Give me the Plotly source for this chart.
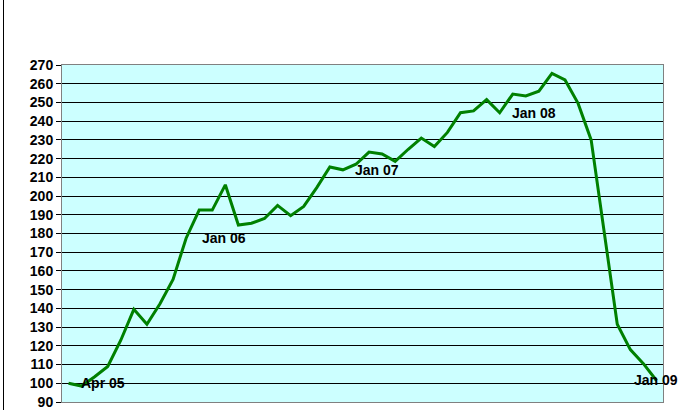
import plotly.graph_objects as go

months = ["Apr 05", "May 05", "Jun 05", "Jul 05", "Aug 05", "Sep 05", "Oct 05", "Nov 05", "Dec 05",
          "Jan 06", "Feb 06", "Mar 06", "Apr 06", "May 06", "Jun 06", "Jul 06", "Aug 06", "Sep 06",
          "Oct 06", "Nov 06", "Dec 06", "Jan 07", "Feb 07", "Mar 07", "Apr 07", "May 07", "Jun 07",
          "Jul 07", "Aug 07", "Sep 07", "Oct 07", "Nov 07", "Dec 07", "Jan 08", "Feb 08", "Mar 08",
          "Apr 08", "May 08", "Jun 08", "Jul 08", "Aug 08", "Sep 08", "Oct 08", "Nov 08", "Dec 08",
          "Jan 09"]
values = [100, 98.5, 103.5, 109, 123, 139.5, 131.5, 142.5, 155.5,
          177.5, 192.5, 192.5, 206, 184.5, 185.5, 188, 195, 189.5,
          194.5, 204.5, 215.5, 214, 217, 223.5, 222.5, 218.5, 225,
          231, 226.5, 234, 244.5, 245.5, 251.5, 244.5, 254.5, 253.5,
          256, 265.5, 262, 249.5, 230, 182, 131.5, 118, 110.5,
          101.5]
labelled = ["Apr 05", "Jan 06", "Jan 07", "Jan 08", "Jan 09"]
y_ticks = list(range(90, 271, 10))

FONT = "Arial, Liberation Sans, sans-serif"

fig = go.Figure()
fig.add_trace(go.Scatter(x=months, y=values, mode="lines",
                         line=dict(color="#008000", width=3), hoverinfo="skip"))

for lab in labelled:
    i = months.index(lab)
    last = i == len(months) - 1
    fig.add_annotation(x=lab, y=values[i], text=lab, showarrow=False,
                       xanchor="center" if last else "left",
                       yanchor="middle",
                       xshift=0 if last else (14 if lab == "Jan 06" else 10),
                       font=dict(family=FONT, size=14, color="black", weight="bold"))

# outer chart-area border (left edge visible)
fig.add_shape(type="line", xref="paper", yref="paper",
              x0=(3.5 - 62) / 601, x1=(3.5 - 62) / 601, y0=-0.1, y1=1.3,
              line=dict(color="black", width=1))

fig.update_layout(
    width=682, height=410,
    margin=dict(l=62, r=19, t=65, b=8, autoexpand=False),
    paper_bgcolor="white", plot_bgcolor="#CCFFFF",
    showlegend=False,
    font=dict(family=FONT, size=13, color="black"),
)
fig.update_xaxes(type="category", range=[-0.5, len(months) - 0.5], automargin=False,
                 showticklabels=False, showgrid=False, ticks="",
                 showline=True, linecolor="#808080", linewidth=1, mirror=True,
                 zeroline=False)
fig.update_yaxes(range=[90, 270], tickvals=y_ticks, ticks="outside", ticklen=5,
                 automargin=False,
                 tickcolor="black", showgrid=True, gridcolor="black", gridwidth=1,
                 showline=True, linecolor="#808080", linewidth=1, mirror=True,
                 zeroline=False,
                 tickfont=dict(family=FONT, size=14, color="black", weight="bold"))

fig.write_html("out.html",
               config={"displayModeBar": False, "staticPlot": True},
               post_script="document.body.style.margin='0';document.body.style.overflow='hidden';")
